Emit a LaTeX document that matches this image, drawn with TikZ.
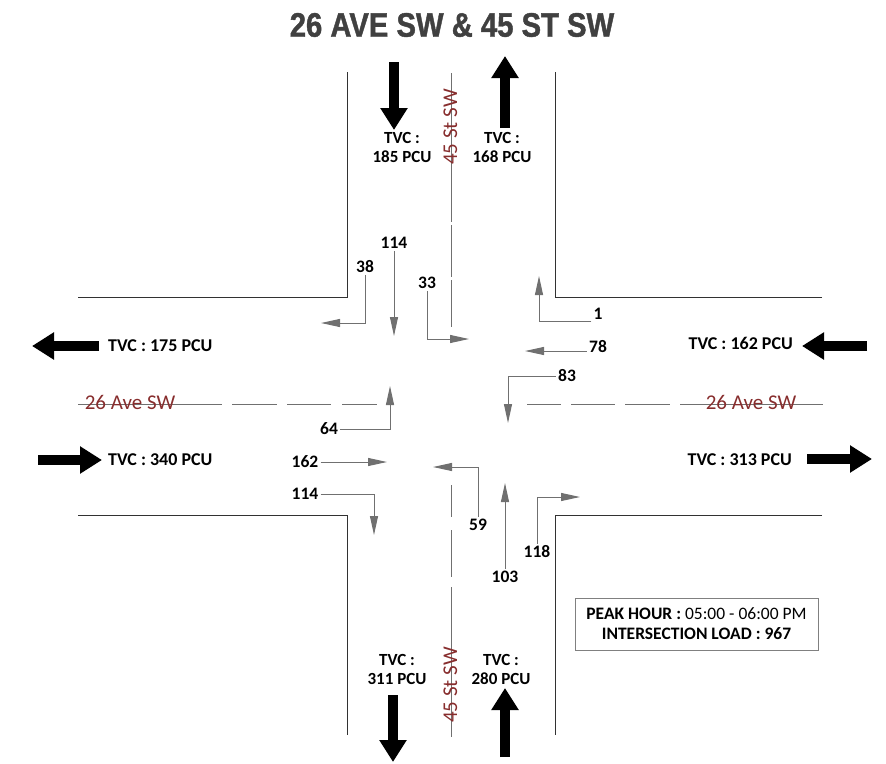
\documentclass[tikz,border=0pt]{standalone}
\usepackage{fontspec}
\setmainfont{Carlito}
\newfontfamily\titlefont[FakeStretch=0.86,BoldFeatures={FakeBold=1.2}]{Liberation Sans}
\usepackage{tikz}
\usetikzlibrary{arrows.meta}
\definecolor{roadred}{RGB}{135, 45, 45}
\definecolor{movegray}{RGB}{112, 112, 112}
\definecolor{titlegray}{RGB}{64, 64, 64}
\definecolor{edgegray}{RGB}{50, 50, 50}
\tikzset{
  mv/.style={movegray,line width=1pt,-{Triangle[length=19pt,width=8pt]}},
  bigarr/.style={line width=10pt,-{Triangle[length=22pt,width=26pt]}},
  num/.style={font=\fontsize{17.5}{19}\selectfont\bfseries,inner sep=2pt},
  tvc/.style={font=\fontsize{17}{19}\selectfont\bfseries,align=center,inner sep=0pt},
  tvcside/.style={font=\fontsize{18}{19}\selectfont\bfseries,inner sep=0pt},
  rdname/.style={roadred,font=\fontsize{21}{22}\selectfont,inner sep=0pt,anchor=base},
  cline/.style={movegray,line width=1pt},
}

\begin{document}
\begin{tikzpicture}[x=1pt,y=-1pt]
  \useasboundingbox (0,0) rectangle (886,763);
  \node[titlegray,font=\fontsize{34}{36}\titlefont\bfseries] (title) at (452,25) {26 AVE SW \& 45 ST SW};
  % road edges
  \draw[edgegray,line width=1pt](78,297)--(347,297)--(347,72);
  \draw[edgegray,line width=1pt](822,297)--(555,297)--(555,72);
  \draw[edgegray,line width=1pt](78,515)--(347,515)--(347,735);
  \draw[edgegray,line width=1pt](822,515)--(555,515)--(555,735);
  % centre lines
  \foreach \a/\b in {78/222,232/277,287/331,342/377,527/561,571/615,625/670,680/823}
    \draw[cline](\a,404)--(\b,404);
  \foreach \a/\b in {73/222,225/277,280/327,485/517,530/577,587/737}
    \draw[cline](451,\a)--(451,\b);
  \node[rdname] (aveW) at (130,409.5){26 Ave SW};
  \node[rdname] (aveE) at (751,409.5){26 Ave SW};
  \node[rdname,rotate=90] (stN) at (457,127){45 St SW};
  \node[rdname,rotate=90] (stS) at (457,685){45 St SW};
  % approach volumes
  \draw[bigarr](394,62)--(394,130);
  \draw[bigarr](505,128)--(505,56);
  \draw[bigarr](393,695)--(393,762);
  \draw[bigarr](505,757)--(505,688);
  \draw[bigarr](99,346)--(32,346);
  \draw[bigarr](38,460)--(102,460);
  \draw[bigarr](867,346)--(802,346);
  \draw[bigarr](807,459)--(872,459);
  \node[tvc] (tvcNL) at (402,147){TVC :\\185 PCU};
  \node[tvc] (tvcNR) at (502,147){TVC :\\168 PCU};
  \node[tvc] (tvcSL) at (397,669){TVC :\\311 PCU};
  \node[tvc] (tvcSR) at (501,669){TVC :\\280 PCU};
  \node[tvcside,anchor=west] (tvcWT) at (108,346){TVC : 175 PCU};
  \node[tvcside,anchor=west] (tvcWB) at (108,460){TVC : 340 PCU};
  \node[tvcside,anchor=east] (tvcET) at (793,343){TVC : 162 PCU};
  \node[tvcside,anchor=east] (tvcEB) at (792,460){TVC : 313 PCU};
  % turning movements
  \node[num] (sbT) at (394,243){114};
  \node[num] (sbR) at (365,267){38};
  \node[num] (sbL) at (427,283){33};
  \node[num] (wbR) at (598,314){1};
  \node[num] (wbT) at (598,347){78};
  \node[num] (wbL) at (567,376){83};
  \node[num] (nbL) at (329,429){64};
  \node[num] (ebT) at (305,462){162};
  \node[num] (ebR) at (305,494){114};
  \node[num] (nbX) at (478,525){59};
  \node[num] (nbT) at (505,577){103};
  \node[num] (nbR) at (537,552){118};
  \coordinate (sbTtip) at (394,336);
  \coordinate (sbRtip) at (321,323);
  \coordinate (sbLtip) at (469,339);
  \coordinate (wbRtip) at (539,276);
  \coordinate (wbTtip) at (525,351);
  \coordinate (wbLtip) at (508,423);
  \coordinate (nbLtip) at (390,386);
  \coordinate (ebTtip) at (387,462);
  \coordinate (ebRtip) at (374,535);
  \coordinate (nbXtip) at (433,467);
  \coordinate (nbTtip) at (505,483);
  \coordinate (nbRtip) at (580,497);
  \draw[mv](sbT.south)--(sbTtip);
  \draw[mv](sbR.south)|-(sbRtip);
  \draw[mv](sbL.south)|-(sbLtip);
  \draw[mv](wbR.south west)-|(wbRtip);
  \draw[mv](wbT.west |- wbTtip)--(wbTtip);
  \draw[mv](wbL.west)-|(wbLtip);
  \draw[mv](nbL.east)-|(nbLtip);
  \draw[mv](ebT.east)--(ebTtip);
  \draw[mv](ebR.east)-|(ebRtip);
  \draw[mv](nbX.north)|-(nbXtip);
  \draw[mv](nbT.north)--(nbTtip);
  \draw[mv](nbR.north)|-(nbRtip);
  \node[draw=gray,line width=1pt,minimum width=243,minimum height=52,align=center,
    font=\fontsize{17.5}{20}\selectfont] (peak) at (696.5,624)
    {\textbf{PEAK HOUR :} 05:00 - 06:00 PM\\\textbf{INTERSECTION LOAD : 967}};
\end{tikzpicture}
\end{document}
